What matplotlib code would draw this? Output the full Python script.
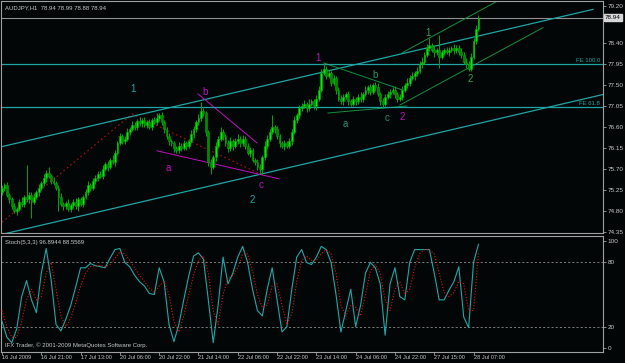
import numpy as np
import matplotlib.pyplot as plt

plt.rcParams['font.family'] = ['Liberation Sans', 'DejaVu Sans']

# AUDJPY H1 bars, 16 Jul 2009 - 28 Jul 2009
first_open = 75.20
closes = [
    75.30, 75.35, 75.15, 75.05, 74.90, 74.80, 74.85, 75.00, 74.95, 75.10,
    75.05, 75.15, 75.00, 75.10, 75.20, 75.30, 75.40, 75.50, 75.62, 75.55,
    75.45, 75.40, 75.30, 75.10, 74.95, 74.90, 74.98, 74.85, 74.92, 75.00,
    74.90, 75.05, 74.95, 75.10, 75.20, 75.35, 75.30, 75.45, 75.50, 75.60,
    75.55, 75.70, 75.80, 75.75, 75.90, 75.85, 76.05, 76.25, 76.40, 76.30,
    76.35, 76.50, 76.55, 76.65, 76.60, 76.72, 76.68, 76.75, 76.65, 76.70,
    76.60, 76.75, 76.70, 76.80, 76.85, 76.70, 76.55, 76.40, 76.30, 76.25,
    76.15, 76.10, 76.20, 76.15, 76.25, 76.20, 76.30, 76.45, 76.55, 76.70,
    76.80, 76.95, 76.90, 76.50, 75.85, 75.75, 75.95, 76.20, 76.35, 76.50,
    76.40, 76.25, 76.15, 76.30, 76.20, 76.30, 76.35, 76.25, 76.35, 76.20,
    76.05, 76.10, 75.90, 75.85, 75.75, 75.70, 75.95, 76.20, 76.35, 76.50,
    76.60, 76.55, 76.40, 76.25, 76.20, 76.25, 76.20, 76.30, 76.50, 76.75,
    76.85, 77.00, 77.05, 77.10, 77.00, 77.10, 77.15, 77.05, 77.20, 77.40,
    77.75, 77.85, 77.70, 77.75, 77.55, 77.65, 77.40, 77.20, 77.15, 77.25,
    77.30, 77.15, 77.10, 77.20, 77.15, 77.25, 77.20, 77.30, 77.40, 77.45,
    77.35, 77.50, 77.45, 77.30, 77.15, 77.10, 77.25, 77.30, 77.35, 77.40,
    77.30, 77.20, 77.25, 77.40, 77.50, 77.55, 77.65, 77.70, 77.75, 77.80,
    77.95, 78.00, 78.15, 78.30, 78.35, 78.25, 78.20, 78.25, 78.10, 78.20,
    78.25, 78.20, 78.25, 78.30, 78.25, 78.30, 78.20, 78.15, 78.00, 77.95,
    77.85, 78.10, 78.45, 78.70, 78.94,
]
# upper / lower shadow length of each bar, in hundredths of a yen
wick_hi = [
    6, 4, 8, 3, 5, 7, 4, 6, 9, 5,
    68, 6, 5, 8, 4, 7, 5, 10, 6, 12,
    5, 8, 4, 6, 9, 5, 4, 7, 6, 5,
    8, 4, 6, 5, 7, 9, 4, 6, 8, 5,
    6, 8, 5, 7, 4, 9, 6, 5, 8, 6,
    5, 7, 4, 8, 6, 5, 9, 4, 7, 6,
    8, 5, 6, 9, 5, 7, 4, 6, 8, 5,
    6, 4, 7, 5, 8, 6, 5, 9, 7, 6,
    8, 19, 6, 5, 4, 7, 6, 8, 5, 9,
    6, 5, 7, 8, 4, 6, 9, 5, 7, 6,
    5, 8, 6, 4, 7, 5, 6, 9, 8, 6,
    26, 5, 7, 4, 6, 8, 5, 7, 6, 9,
    5, 8, 6, 7, 4, 9, 6, 5, 8, 7,
    10, 12, 6, 8, 5, 7, 4, 6, 9, 5,
    6, 8, 5, 7, 4, 6, 9, 5, 7, 6,
    8, 5, 6, 9, 4, 7, 5, 8, 6, 5,
    7, 4, 6, 8, 5, 9, 6, 7, 5, 8,
    6, 9, 5, 7, 15, 6, 8, 5, 32, 6,
    5, 7, 6, 4, 8, 5, 6, 9, 5, 7,
    6, 8, 5, 9, 5,
]
wick_lo = [
    5, 7, 4, 8, 6, 5, 9, 4, 6, 7,
    5, 8, 35, 6, 4, 7, 5, 6, 8, 5,
    7, 4, 6, 30, 5, 8, 6, 4, 7, 5,
    6, 9, 5, 7, 4, 6, 8, 5, 7, 6,
    4, 7, 5, 9, 6, 5, 8, 6, 4, 7,
    6, 5, 8, 4, 7, 6, 5, 9, 6, 8,
    5, 7, 4, 6, 8, 5, 7, 6, 9, 5,
    8, 6, 5, 7, 4, 9, 6, 5, 8, 6,
    5, 7, 6, 9, 8, 15, 5, 7, 6, 4,
    7, 5, 8, 6, 9, 4, 6, 7, 5, 8,
    6, 9, 5, 7, 8, 10, 10, 5, 7, 4,
    6, 8, 5, 7, 4, 9, 6, 5, 8, 6,
    7, 5, 6, 4, 8, 6, 5, 7, 9, 5,
    6, 4, 8, 5, 7, 6, 9, 5, 6, 8,
    5, 7, 4, 6, 8, 5, 7, 6, 4, 9,
    6, 5, 8, 4, 7, 9, 5, 6, 8, 5,
    7, 6, 5, 8, 4, 6, 7, 5, 9, 6,
    5, 8, 6, 4, 7, 5, 9, 6, 24, 5,
    6, 4, 7, 5, 8, 6, 5, 7, 6, 8,
    5, 6, 4, 7, 5,
]

# Stoch(5,3,3), read every second bar
stoch_main = [
    25, 10, 5, 18, 48, 63, 45, 33, 70, 93,
    64, 22, 16, 27, 40, 57, 75, 75, 79, 77,
    76, 75, 84, 92, 93, 80, 76, 68, 62, 58,
    51, 50, 75, 62, 22, 6, 22, 45, 67, 86,
    89, 83, 45, 5, 40, 85, 60, 70, 85, 95,
    80, 55, 35, 30, 55, 75, 45, 15, 20, 55,
    85, 92, 80, 78, 85, 95, 92, 80, 50, 15,
    35, 55, 20, 40, 70, 80, 75, 60, 12, 60,
    75, 48, 45, 80, 92, 92, 92, 92, 70, 45,
    45, 54, 62, 76, 29, 19, 80, 96.8944,
]
stoch_signal = [
    35, 20, 10, 10, 25, 45, 55, 45, 48, 70,
    80, 55, 30, 20, 28, 42, 58, 70, 76, 77,
    77, 76, 78, 84, 90, 88, 82, 75, 68, 62,
    56, 52, 58, 62, 50, 25, 15, 30, 50, 68,
    82, 86, 70, 35, 22, 50, 65, 68, 75, 88,
    88, 72, 50, 38, 40, 58, 60, 40, 22, 32,
    62, 82, 86, 82, 82, 88, 92, 88, 70, 40,
    30, 40, 38, 30, 50, 72, 78, 70, 45, 35,
    55, 62, 50, 55, 75, 88, 92, 92, 88, 70,
    52, 48, 52, 62, 60, 35, 35, 88.5569,
]

time_labels = ['16 Jul 2009', '16 Jul 21:00', '17 Jul 13:00', '20 Jul 06:00',
               '20 Jul 22:00', '21 Jul 14:00', '22 Jul 06:00', '22 Jul 22:00',
               '23 Jul 14:00', '24 Jul 06:00', '24 Jul 22:00', '27 Jul 15:00',
               '28 Jul 07:00']
price_ticks = [74.35, 74.80, 75.25, 75.70, 76.15, 76.60, 77.05, 77.50, 77.95, 78.40, 79.20]

# drawn objects: (bar index, price) pairs
zigzag = [(0, 74.56), (53, 76.88), (106, 75.57)]
channel_lo = [(0, 74.30), (245, 77.30)]
channel_hi = [(0, 76.18), (240.6, 79.12)]
green_hi = [(162.9, 78.19), (201.8, 79.30)]
green_lo = [(162, 77.07), (220.3, 78.73)]
green_1b = [(131.1, 77.97), (163.3, 77.39)]
green_ac = [(132.7, 76.90), (164.9, 77.05)]
mag_bc = [(79.8, 77.31), (103.8, 76.26)]
mag_ac = [(63.1, 76.09), (112.8, 75.49)]
fe_levels = [77.95, 77.03]
fe_names = ['FE 100.0', 'FE 61.8']

TEAL = '#1fa5a5'
MAG = '#c010c0'
WAVE = [('1', 53.3, 77.41, TEAL), ('b', 82.7, 77.35, MAG), ('a', 67.6, 75.72, MAG),
        ('c', 105.5, 75.36, MAG), ('2', 101.8, 75.04, TEAL), ('1', 128.7, 78.08, MAG),
        ('b', 151.9, 77.71, '#2a9070'), ('a', 139.7, 76.66, '#2a9070'),
        ('c', 156.8, 76.79, '#2a9070'), ('2', 162.9, 76.81, MAG),
        ('1', 173.5, 78.61, '#30a050'), ('2', 190.6, 77.63, '#30a050')]

bg = '#020606'
fg = '#c8c8c8'
frame = '#a0a0a0'

fig = plt.figure(figsize=(6.25, 3.63), dpi=100, facecolor=bg)
W, H = 625, 363
ax = fig.add_axes([1 / W, 1 - 233 / H, 602 / W, 232 / H], facecolor=bg)
ax2 = fig.add_axes([1 / W, 1 - 352 / H, 602 / W, 116 / H], facecolor=bg)

n = len(closes)
idx = np.arange(n)
opens = np.array([first_open] + closes[:-1])
closes_a = np.array(closes)
highs = np.maximum(opens, closes_a) + np.array(wick_hi) / 100
lows = np.minimum(opens, closes_a) - np.array(wick_lo) / 100
up = closes_a >= opens

ax.vlines(idx, lows, highs, color='#00a800', lw=0.7, zorder=3)
ax.bar(idx[up], closes_a[up] - opens[up], bottom=opens[up], width=0.75,
       color='#00ee00', edgecolor='#00b000', lw=0.4, zorder=4)
ax.bar(idx[~up], opens[~up] - closes_a[~up], bottom=closes_a[~up], width=0.75,
       color='#008a00', edgecolor='#00a800', lw=0.4, zorder=4)

xmax = (603 - 2) / 2.456
ax.set_xlim(-1 / 2.456, xmax)
ax.set_ylim(74.329, 79.30)


def seg(pts, **kw):
    xs, ys = zip(*pts)
    ax.plot(xs, ys, **kw)


seg(zigzag, color='#b01010', lw=0.8, ls=(0, (1.5, 2.5)), zorder=2)
seg(channel_lo, color=TEAL, lw=0.9, zorder=2)
seg(channel_hi, color=TEAL, lw=0.9, zorder=2)
seg(green_hi, color='#109040', lw=0.7, zorder=2)
seg(green_lo, color='#109040', lw=0.7, zorder=2)
seg(green_1b, color='#109040', lw=0.7, zorder=2)
seg(green_ac, color='#109040', lw=0.7, zorder=2)
seg(mag_bc, color=MAG, lw=0.7, zorder=2)
seg(mag_ac, color=MAG, lw=0.7, zorder=2)

for lvl, name in zip(fe_levels, fe_names):
    ax.axhline(lvl, color=TEAL, lw=0.9, zorder=2)
    ax.text(xmax - 1.2, lvl + 0.03, name, color=TEAL, fontsize=4.3, ha='right', va='bottom')

ax.axhline(closes[-1], color='#909090', lw=0.8, zorder=1)

for s, x, y, c in WAVE:
    ax.text(x, y, s, color=c, fontsize=7, ha='center', va='center')

ax.text(4 / 602, 1 - 4 / 232, 'AUDJPY,H1  78.94 78.99 78.88 78.94', transform=ax.transAxes,
        color=fg, fontsize=4.3, ha='left', va='top')

ax.yaxis.tick_right()
ax.set_yticks(price_ticks, ['%.2f' % p for p in price_ticks])
ax.tick_params(axis='y', length=2.5, width=0.6, color=frame, labelcolor=fg, labelsize=4.6, pad=1)
ax.set_xticks([])
ax.text(1.003, closes[-1], '78.94', transform=ax.get_yaxis_transform(), color='black',
        fontsize=4.6, ha='left', va='center', clip_on=False,
        bbox=dict(boxstyle='square,pad=0.15', fc='#d8d8d8', ec='#d8d8d8'))

# stochastic window
k_idx = np.arange(len(stoch_main)) * 2
ax2.plot(k_idx, stoch_main, color='#20a8a8', lw=0.8, zorder=3)
ax2.plot(k_idx, stoch_signal, color='#e01818', lw=0.8, ls=(0, (1, 1.6)), zorder=3)
for lvl in (80, 20):
    ax2.axhline(lvl, color='#909090', lw=0.6, ls=(0, (2.5, 2.5)), zorder=1)
ax2.set_xlim(-1 / 2.456, xmax)
ax2.set_ylim(-3.7, 104.7)
ax2.yaxis.tick_right()
ax2.set_yticks([0, 20, 80, 100], ['0', '20', '80', '100'])
ax2.tick_params(axis='y', length=2.5, width=0.6, color=frame, labelcolor=fg, labelsize=4.6, pad=1)
ax2.set_xticks(np.arange(len(time_labels)) * 16, time_labels)
ax2.tick_params(axis='x', length=2, width=0.6, color=frame, labelcolor=fg, labelsize=4.1, pad=0.3)
for lbl in ax2.get_xticklabels():
    lbl.set_horizontalalignment('left')

ax2.text(4 / 602, 1 - 4 / 116, 'Stoch(5,3,3) 96.8944 88.5569', transform=ax2.transAxes,
         color=fg, fontsize=4.3, ha='left', va='top')
ax2.text(4 / 602, 7 / 116, 'IFX Trader, \u00a9 2001-2009 MetaQuotes Software Corp.',
         transform=ax2.transAxes, color=fg, fontsize=4.3, ha='left', va='center')

for a in (ax, ax2):
    for sp in a.spines.values():
        sp.set_color(frame)
        sp.set_linewidth(0.8)

fig.savefig('out.png', dpi=100, facecolor=bg)
